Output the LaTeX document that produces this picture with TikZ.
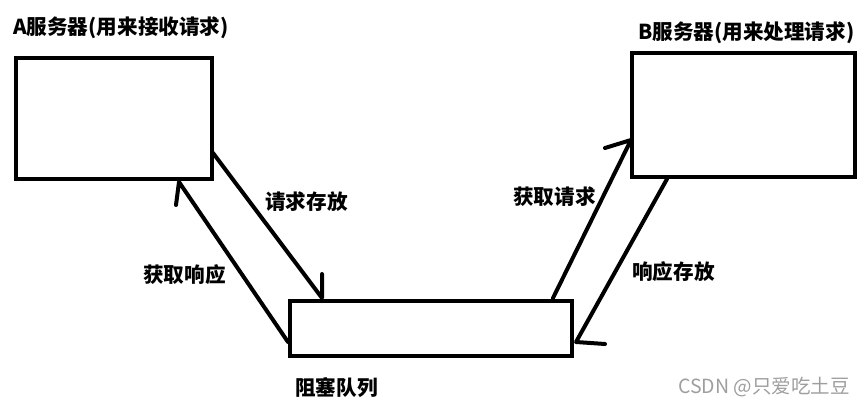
\documentclass[tikz,border=0pt]{standalone}
\usepackage{fontspec}
\newfontfamily\cjk{Noto Sans CJK SC}
\usetikzlibrary{positioning, calc}

\begin{document}
\begin{tikzpicture}[
				x=1pt, y=-1pt,
				box/.style={draw, line width=4pt, inner sep=0pt},
				arrow/.style={line width=4pt, line cap=round, line join=round},
				txt/.style={font=\cjk\bfseries\fontsize{20.6}{20.6}\selectfont, inner sep=0pt, anchor=west},
				wmark/.style={font=\cjk\fontsize{19.5}{19.5}\selectfont, text=black!38, inner sep=0pt, anchor=west}
				]
				\useasboundingbox (0,0) rectangle (865,406);
				
				% Cajas
				\node[box, minimum width=196pt, minimum height=121pt] (A) at (114,118.5) {};
				\node[box, minimum width=223pt, minimum height=124pt] (B) at (743.5,115) {};
				\node[box, minimum width=282pt, minimum height=55pt] (Q) at (431,328.5) {};
				
				% Titulos
				\node[txt] (tA) at (13,28) {A服务器(用来接收请求)};
				\node[txt] (tB) at (638,33) {B服务器(用来处理请求)};
				\node[txt] (tQ) at (295,388) {阻塞队列};
				
				% Puntos de las flechas
				\coordinate (a1s) at (213,153);
				\coordinate (a1e) at (322,298);
				\coordinate (a1b) at (322,274);
				
				\coordinate (a2s) at (288,342);
				\coordinate (a2e) at (179,182);
				\coordinate (a2b) at (176,205);
				
				\coordinate (a3s) at (553,298);
				\coordinate (a3e) at (631,140);
				\coordinate (a3b) at (605,148);
				
				\coordinate (a4s) at (667,179);
				\coordinate (a4e) at (576,342);
				\coordinate (a4b) at (605,344);
				
				% Flechas
				\draw[arrow] (a1s) -- (a1e) -- (a1b);
				\draw[arrow] (a2s) -- (a2e) -- (a2b);
				\draw[arrow] (a3s) -- (a3e) -- (a3b);
				\draw[arrow] (a4s) -- (a4e) -- (a4b);
				
				% Etiquetas
				\node[txt] (l1) at (265,202) {请求存放};
				\node[txt] (l2) at (143,275) {获取响应};
				\node[txt] (l3) at (513,197) {获取请求};
				\node[txt] (l4) at (632,272) {响应存放};
				
				% Marca de agua
				\node[wmark] (wm) at (678,387) {CSDN @只爱吃土豆};
				
			\end{tikzpicture}
\end{document}
